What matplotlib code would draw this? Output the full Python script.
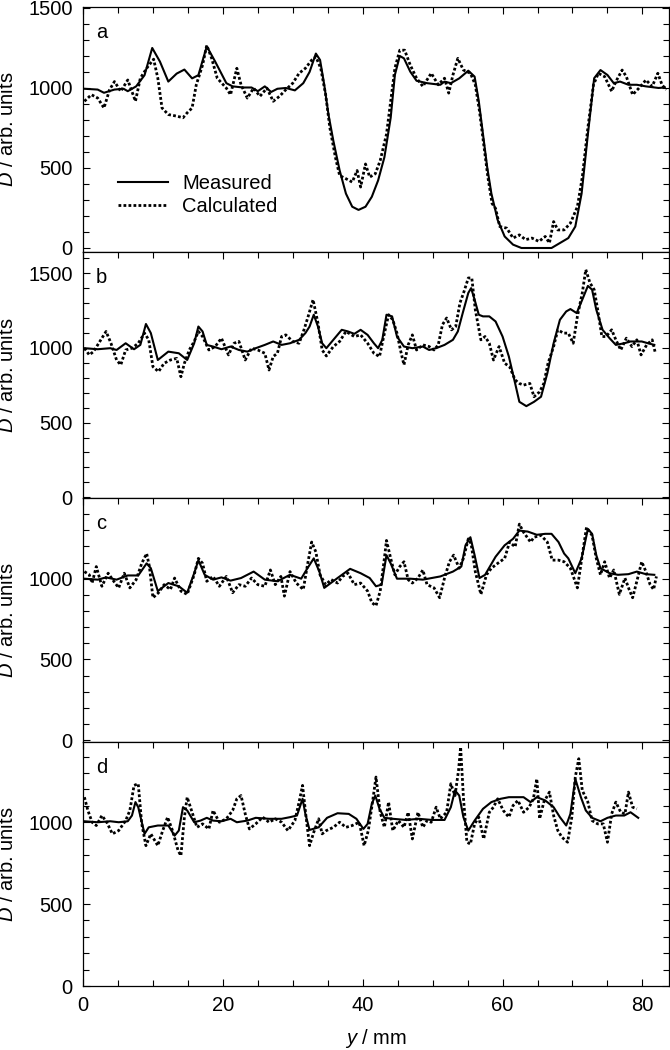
import matplotlib
matplotlib.use("Agg")
import matplotlib.pyplot as plt
from matplotlib.ticker import MultipleLocator, FixedLocator

plt.rcParams['font.family'] = ['Liberation Sans', 'DejaVu Sans']
plt.rcParams['mathtext.fontset'] = 'custom'
plt.rcParams['mathtext.it'] = 'Liberation Sans:italic'
plt.rcParams['mathtext.rm'] = 'Liberation Sans'

# ---- panel a ----
a_meas_x = [0.2, 2.1, 3, 4.5, 5.8, 6.4, 7.6, 8.8, 9.9, 11, 12.2, 13.4, 14.5, 15.6, 16.5, 17.7, 18.9, 20.5,
            21.4, 22.9, 24.1, 25, 26, 26.9, 27.8, 29, 30.3, 31.5, 32.4, 33.3, 33.9, 34.5, 35.1, 35.8, 36.7,
            37.6, 38.5, 39.4, 40.4, 41.3, 42.2, 43.1, 44, 44.6, 45.3, 45.9, 46.8, 47.7, 49.2, 51.1, 51.7,
            52.6, 53.8, 55.1, 56, 56.6, 57.2, 57.8, 58.4, 59.3, 60.3, 61.5, 62.7, 67, 68.2, 69.4, 70.4,
            71.3, 72.2, 73.1, 74, 75, 75.9, 76.8, 78, 79.2, 80.5, 82.3, 83.2]
a_meas_y = [995, 990, 970, 990, 995, 980, 1010, 1080, 1250, 1165, 1040, 1090, 1115, 1060, 1080, 1260, 1165,
            1030, 1010, 1003, 1003, 980, 1010, 975, 995, 1000, 985, 1030, 1100, 1215, 1175, 1020, 835, 670,
            485, 340, 258, 238, 258, 320, 422, 567, 814, 1082, 1200, 1185, 1102, 1045, 1030, 1020, 1040,
            1030, 1060, 1108, 1071, 917, 711, 505, 340, 175, 72, 21, 0, 0, 31, 62, 134,
            340, 711, 1061, 1112, 1081, 1030, 1040, 1020, 1020, 1010, 1000, 1003]
a_calc_x = [0.2, 1.2, 2.1, 3, 3.8, 4.5, 5.4, 6.4, 7.5, 8.2, 9.1, 10.1, 10.7, 11.3, 12.2, 13.4, 14.3, 14.9,
            15.6, 16.2, 17.1, 17.7, 18.4, 19.2, 20.5, 21.1, 22, 22.6, 23.5, 24.4, 25.3, 26.3, 27.2, 28.1,
            29, 30, 30.9, 31.8, 32.7, 33.3, 34, 34.7, 35.3, 36.1, 36.7, 37.6, 38.5, 39.2, 39.7, 40.4, 41,
            41.8, 42.5, 43.4, 44, 44.6, 45.3, 46, 46.8, 47.7, 48.6, 49.8, 50.8, 51.7, 52.3, 52.9, 53.6,
            54.4, 55.4, 56.1, 56.7, 57.3, 57.9, 58.5, 59, 59.6, 60.6, 61.5, 62.4, 63.3, 64.2, 65.2, 66.1,
            66.7, 67.3, 67.9, 68.8, 69.7, 70.7, 71.4, 72.2, 73, 73.7, 74.6, 75.6, 76.2, 77.1, 77.7, 78.6,
            79.5, 80.5, 81.4, 82.2, 82.8, 83.4]
a_calc_y = [917, 958, 937, 875, 989, 1040, 979, 1050, 917, 1061, 1123, 1180, 1061, 875, 834, 824, 814, 845,
            875, 1020, 1143, 1267, 1185, 1061, 999, 958, 1123, 1020, 937, 999, 948, 999, 917, 948,
            989, 1030, 1092, 1123, 1174, 1195, 1123, 958, 752, 566, 453, 433, 412, 484, 381, 525, 443,
            464, 546, 711, 917, 1123, 1236, 1236, 1143, 1061, 1010, 1092, 1020, 1061, 968, 1081, 1185,
            1112, 1092, 1020, 855, 649, 443, 278, 247, 134, 124, 62, 82, 52, 62, 41, 72,
            31, 165, 113, 113, 155, 258, 443, 752, 1020, 1092, 1071, 979, 1040, 1112, 1071, 958,
            999, 1050, 1010, 1092, 1020, 989]

# ---- panel b ----
b_meas_x = [0.2, 2.1, 3.9, 4.8, 6.1, 7.3, 8.2, 9, 9.7, 10.7, 12.2, 13.7, 14.9, 15.9, 16.5, 17.1, 17.7, 18.6,
            19.8, 21.1, 22.3, 23.5, 24.7, 26, 27.2, 28.4, 29.6, 30.9, 31.8, 32.4, 33, 33.6, 34.2, 34.8,
            35.8, 37, 37.9, 38.8, 39.7, 40.7, 41.6, 42.2, 42.8, 43.4, 44.2, 44.9, 45.9, 47.1, 48.6, 49.5,
            50.5, 51.7, 52.9, 53.6, 54.3, 55.1, 55.5, 56, 56.6, 57.2, 58.1, 59, 60, 60.9, 61.8, 62.4,
            63.4, 64.5, 65.5, 66.4, 67.3, 68.2, 69.1, 69.7, 70.6, 71.4, 72.2, 72.8, 73.4, 74.3, 75.3,
            76.2, 77.4, 78.3, 79.9, 80.8, 81.7]
b_meas_y = [998, 991, 998, 986, 1031, 991, 1020, 1160, 1099, 919, 975, 964, 919, 1031, 1143, 1110, 1020, 1009,
            991, 1009, 986, 975, 998, 1020, 1043, 1020, 1031, 1054, 1099, 1143, 1222, 1143, 1031, 998,
            1054, 1121, 1110, 1094, 1121, 1087, 1031, 998, 1054, 1222, 1211, 1076, 1009, 998, 1009, 986,
            998, 1020, 1054, 1110, 1233, 1368, 1400, 1323, 1222, 1211, 1211, 1177, 1076, 942, 762, 639,
            610, 639, 673, 830, 1031, 1188, 1244, 1260, 1233, 1323, 1415, 1390, 1256, 1121, 1065,
            1020, 1031, 1043, 1043, 1031, 1020]
b_calc_x = [0.2, 0.9, 1.5, 2.1, 2.7, 3.3, 4, 4.8, 5.4, 6.1, 7, 7.9, 8.8, 9.4, 10, 10.8, 11.6, 12.5, 13.4,
            14, 14.5, 15.2, 15.9, 16.5, 17.1, 18, 18.9, 19.8, 20.8, 21.6, 22.3, 23.2, 24.1, 25, 26, 26.6,
            27.2, 27.8, 28.4, 29, 30, 30.9, 31.6, 32.2, 32.9, 33.6, 34.2, 34.8, 35.8, 36.7, 37.6, 38.8,
            39.7, 40.7, 41.6, 42.4, 43, 43.7, 44.3, 44.9, 45.4, 45.9, 46.5, 47.1, 47.7, 48.6, 49.5, 50.2,
            50.8, 51.4, 52, 52.7, 53.3, 53.9, 54.5, 55.1, 55.6, 56.1, 56.9, 57.5, 58.1, 58.7, 59.5, 60.3,
            61, 61.8, 62.4, 63, 63.9, 64.5, 65.3, 65.9, 66.5, 67.3, 67.9, 68.7, 69.4, 70.1, 70.7, 71.4,
            71.9, 72.5, 73.1, 73.6, 74.2, 74.8, 75.6, 76.2, 76.9, 77.7, 78.5, 79.2, 79.8, 80.6, 81.4, 81.8]
b_calc_y = [998, 953, 975, 1020, 1065, 1110, 1031, 919, 886, 986, 998, 1031, 1099, 1054, 874, 841, 897, 919, 930,
            807, 897, 986, 1043, 1110, 1076, 986, 1009, 1065, 953, 1031, 1043, 919, 998, 986, 964, 852,
            942, 964, 1076, 1087, 1043, 1031, 1121, 1211, 1323, 1166, 986, 946, 1009, 1043, 1110, 1076,
            1087, 1031, 964, 942, 1076, 1222, 1188, 1099, 986, 886, 1020, 1087, 986, 1020, 1009, 986,
            1020, 1155, 1200, 1121, 1143, 1300, 1379, 1468, 1468, 1256, 1054, 1076, 1031, 919, 1009, 897,
            874, 785, 762, 751, 762, 673, 706, 762, 897, 1009, 1121, 1099, 1099, 1031, 1211, 1368,
            1524, 1435, 1390, 1256, 1076, 1076, 1121, 1054, 986, 1065, 1009, 1054, 953, 1020, 1054, 975]

# ---- panel c ----
c_meas_x = [0.2, 2.1, 3.3, 4.8, 6.4, 7.9, 9.1, 9.7, 10.7, 12.2, 13.7, 14.9, 15.9, 16.5, 17.4, 18.6, 19.8,
            21.1, 22.6, 24.4, 26, 27.8, 29.6, 31.2, 32.1, 33, 33.8, 34.5, 36.4, 38.2, 39.7, 41, 41.9, 42.7,
            43.4, 44, 44.9, 46.8, 48.6, 51.1, 52.9, 54.1, 54.7, 55.4, 56, 56.7, 57.5, 59, 60.3, 61.5,
            62.4, 63.6, 64.9, 66.1, 67, 68, 68.8, 69.4, 70.4, 71.3, 72.2, 72.8, 73.4, 74, 75.3, 76.5,
            78, 79.2, 80.5, 81.7]
c_meas_y = [1000, 994, 1008, 994, 1020, 1020, 1095, 1065, 923, 973, 953, 913, 1034, 1115, 1024, 994, 1008,
            988, 1004, 1044, 994, 984, 1024, 1000, 1065, 1126, 1044, 943, 1004, 1061, 1034, 1004, 953, 963,
            1146, 1095, 1000, 1000, 994, 1014, 1044, 1075, 1207, 1257, 1146, 1004, 1024, 1136, 1207, 1247,
            1298, 1292, 1272, 1278, 1278, 1227, 1156, 1126, 1034, 1126, 1308, 1278, 1146, 1065, 1034, 1024,
            1028, 1044, 1028, 1024]
c_calc_x = [0.2, 0.9, 1.3, 1.9, 2.7, 3.6, 4.4, 5.1, 5.9, 6.7, 7.6, 8.4, 9.1, 9.5, 10, 10.8, 11.6, 12.5, 13.1,
            14, 14.9, 15.9, 16.5, 17.1, 17.7, 18.6, 19.5, 20.5, 21.4, 22.3, 23.2, 24.1, 25, 26, 26.8, 27.5,
            28.3, 28.8, 29.6, 30.5, 31.5, 32.1, 32.7, 33.3, 33.9, 34.7, 35.5, 36.4, 37.1, 37.9, 38.8, 39.7,
            40.7, 41.3, 41.9, 42.5, 43.1, 43.4, 44, 44.6, 45.3, 45.9, 46.5, 47.1, 47.9, 48.6, 49.2, 50.2,
            51, 51.7, 52.4, 53, 53.8, 54.4, 55.1, 55.5, 56.1, 56.9, 57.7, 58.4, 59.3, 60.3, 61, 61.8, 62.4,
            63, 64, 64.5, 65.5, 66.4, 67.1, 68, 68.8, 69.7, 70.7, 71.4, 72, 72.8, 73.4, 74, 74.6, 75.3,
            75.9, 76.7, 77.5, 78.1, 78.6, 79.2, 79.9, 80.5, 81.1, 81.6, 82]
c_calc_y = [1044, 1024, 973, 1075, 953, 1034, 984, 943, 1034, 943, 994, 1095, 1156, 1075, 882, 913, 963, 933, 1004,
            923, 903, 1024, 1126, 1095, 984, 1014, 953, 1014, 913, 963, 953, 1004, 963, 953, 1054, 963,
            1014, 892, 1044, 973, 933, 1085, 1227, 1166, 1024, 963, 994, 973, 1014, 1034, 963, 973,
            923, 852, 832, 923, 1126, 1237, 1126, 1024, 1075, 1105, 994, 973, 1004, 1054, 963, 943,
            882, 1004, 1105, 1146, 1065, 1126, 1247, 1217, 1044, 903, 1024, 1065, 1095, 1126, 1227, 1197, 1338,
            1288, 1227, 1257, 1268, 1227, 1115, 1115, 1105, 1065, 943, 1146, 1318, 1268, 1126, 1024, 1105, 1004,
            1054, 903, 1004, 933, 882, 984, 1105, 1044, 963, 933, 1014]

# ---- panel d ----
d_meas_x = [0.2, 2.1, 3.9, 5.1, 6.4, 7, 7.5, 7.9, 8.8, 9.4, 10.7, 12.2, 13.1, 13.7, 14.3, 14.9, 15.9, 16.8,
            17.7, 18.6, 19.8, 21.1, 22, 23.5, 24.7, 26.6, 28.4, 29.6, 30.6, 31.4, 31.8, 32.4, 33.7, 34.9,
            36.4, 38, 39.1, 40.1, 40.7, 41.3, 41.8, 42.4, 43.1, 44.3, 46.2, 48, 49.9, 51.7, 52.6, 53.2,
            53.8, 54.4, 55.1, 56, 57.2, 58.4, 59.7, 60.9, 62.1, 63, 64, 64.9, 66.1, 67.3, 68.2, 69.1,
            69.7, 70.4, 71.2, 71.9, 72.8, 74, 75, 76.2, 77.4, 78.3, 79.4]
d_meas_y = [1006, 1000, 1006, 1000, 1006, 1041, 1123, 1092, 929, 969, 980, 980, 918, 949, 1092, 1072, 1000, 1010,
            1027, 1010, 1006, 1021, 1000, 1010, 1027, 1021, 1021, 1031, 1041, 1143, 1051, 953, 969, 1027,
            1055, 1051, 1021, 959, 990, 1112, 1163, 1082, 1027, 1021, 1014, 1021, 1014, 1014, 1092, 1194,
            1163, 1031, 949, 1010, 1082, 1123, 1143, 1153, 1153, 1153, 1123, 1153, 1133, 1092, 1031, 980,
            1051, 1265, 1153, 1072, 1027, 1006, 1027, 1041, 1041, 1061, 1027]
d_calc_x = [0.2, 0.7, 1.3, 1.9, 2.7, 3.4, 4.2, 5.1, 6.1, 6.7, 7.3, 7.9, 8.4, 9, 9.7, 10.7, 11.4, 12.1, 12.8,
            13.6, 14, 14.5, 14.9, 15.6, 16.3, 17.1, 18, 18.6, 19.5, 20.5, 21.4, 22, 22.6, 23.2, 23.8, 24.7,
            25.7, 26.6, 27.5, 28.4, 29.3, 30.3, 30.9, 31.4, 31.9, 32.4, 33, 33.7, 34.2, 34.8, 35.8, 36.7,
            37.6, 38.5, 39.5, 40.2, 40.8, 41.4, 41.9, 42.5, 43.1, 43.7, 44.3, 45.1, 45.9, 46.5, 47.1, 47.9,
            48.6, 49.2, 49.8, 50.5, 51.1, 52, 52.6, 53.2, 53.7, 54, 54.4, 54.9, 55.4, 56, 56.6, 57.3, 58.1,
            58.7, 59.3, 60.1, 60.9, 61.5, 62.2, 63, 63.8, 64.4, 64.9, 65.3, 65.9, 66.7, 67.3, 67.9, 68.5,
            69.3, 69.9, 70.4, 70.9, 71.4, 72.2, 72.8, 73.6, 74.4, 75, 75.6, 76.2, 76.9, 77.5, 78, 78.6, 79.2]
d_calc_y = [1153, 1072, 1000, 980, 1041, 1000, 929, 949, 1010, 1072, 1225, 1235, 990, 857, 929, 857, 949, 1031, 949,
            827, 796, 1031, 1153, 1061, 969, 990, 959, 1072, 1000, 1021, 1072, 1143, 1163, 1051, 959, 990,
            1031, 1000, 1021, 1000, 949, 1010, 1123, 1225, 1031, 857, 939, 1021, 929, 949, 969, 1000,
            969, 980, 1000, 857, 949, 1123, 1276, 1061, 969, 1123, 949, 1010, 969, 1061, 898, 1061,
            969, 1010, 1000, 1092, 1021, 1061, 1235, 1163, 1316, 1459, 1153, 878, 867, 990, 1031, 898, 1061,
            1092, 1143, 1072, 1031, 1102, 1133, 1061, 1092, 1143, 1265, 1021, 1123, 1184, 1041, 949, 908,
            878, 1031, 1276, 1388, 1194, 1123, 1010, 990, 990, 878, 1051, 1123, 1061, 1051, 1184, 1092, 1082]

panels = [
    ('a', a_meas_x, a_meas_y, a_calc_x, a_calc_y, (-25, 1506), [0, 500, 1000, 1500]),
    ('b', b_meas_x, b_meas_y, b_calc_x, b_calc_y, (-5, 1642), [0, 500, 1000, 1500]),
    ('c', c_meas_x, c_meas_y, c_calc_x, c_calc_y, (-12, 1500), [0, 500, 1000]),
    ('d', d_meas_x, d_meas_y, d_calc_x, d_calc_y, (0, 1490), [0, 500, 1000]),
]

fs = 14.5
W, H = 670, 1050
fig = plt.figure(figsize=(6.7, 10.5), dpi=100)
edges = [7, 252, 498, 742, 986]
left, right = 83, 669
axes = []
for i, (lab, mx, my, cx, cy, ylim, yt) in enumerate(panels):
    top, bot = edges[i], edges[i + 1]
    ax = fig.add_axes([left / W, 1 - bot / H, (right - left) / W, (bot - top) / H])
    ax.plot(mx, my, color='black', lw=1.5, label='Measured')
    ax.plot(cx, cy, color='black', lw=2.0, linestyle=(0, (1, 0.8)), label='Calculated')
    ax.set_xlim(0, 83.8)
    ax.set_ylim(*ylim)
    ax.yaxis.set_major_locator(FixedLocator(yt))
    ax.yaxis.set_minor_locator(MultipleLocator(100))
    ax.xaxis.set_major_locator(MultipleLocator(20))
    ax.xaxis.set_minor_locator(MultipleLocator(5))
    last = (i == 3)
    ax.tick_params(axis='both', which='both', direction='in', top=True, right=True,
                   bottom=last, labelbottom=last, labelsize=fs, pad=7.5, width=0.8)
    ax.tick_params(axis='both', which='major', length=5)
    ax.tick_params(axis='both', which='minor', length=4)
    for s in ax.spines.values():
        s.set_linewidth(0.9)
    ax.set_ylabel('$D$ / arb. units', fontsize=fs)
    ax.yaxis.set_label_coords(-0.112, 0.5)
    ax.text(0.022, 0.895, lab, transform=ax.transAxes, fontsize=fs, ha='left', va='center')
    axes.append(ax)

axes[0].legend(loc='upper left', bbox_to_anchor=(0.046, 0.35), frameon=False, fontsize=fs,
               handlelength=2.5, handletextpad=0.7, labelspacing=0.2, borderaxespad=0)
axes[3].set_xlabel('$y$ / mm', fontsize=fs, labelpad=8)

fig.savefig('out.png', dpi=100)
